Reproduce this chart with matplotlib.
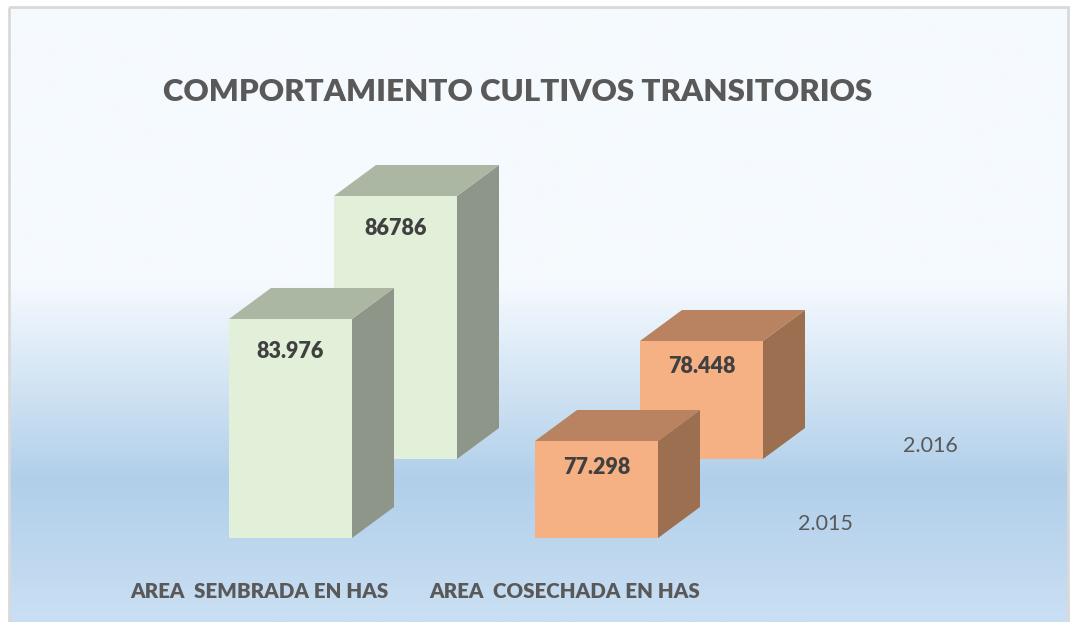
import matplotlib
matplotlib.use("Agg")
import matplotlib.pyplot as plt
from matplotlib.colors import LinearSegmentedColormap
from matplotlib.patches import Polygon, Rectangle
import numpy as np

title = "COMPORTAMIENTO CULTIVOS TRANSITORIOS"
categories = ["AREA  SEMBRADA EN HAS", "AREA  COSECHADA EN HAS"]
series_names = ["2.015", "2.016"]
values_2015 = [83976, 77298]
values_2016 = [86786, 78448]
labels_2015 = ["83.976", "77.298"]
labels_2016 = ["86786", "78.448"]

plt.rcParams['font.family'] = ['Lato', 'DejaVu Sans']

W, H = 1074, 622
fig = plt.figure(figsize=(W / 100, H / 100), dpi=100)
ax = fig.add_axes([0, 0, 1, 1])
ax.set_xlim(0, W)
ax.set_ylim(H, 0)
ax.axis("off")

# chart area background
stops = [0.0, 0.45, 0.77, 1.0]
cols = ["#f5fafe", "#f5fafe", "#b1cfea", "#cadff3"]
cmap = LinearSegmentedColormap.from_list("bg", list(zip(stops, cols)))
grad = np.linspace(0, 1, 256).reshape(-1, 1)
ax.imshow(grad, cmap=cmap, extent=[9, 1068, H, 7], aspect="auto", zorder=0)
ax.set_xlim(0, W)
ax.set_ylim(H, 0)
ax.add_patch(Rectangle((8.5, 7), 1059.5, H, fill=False, ec="#d9d9d9", lw=2, zorder=1))

# the 3d look: each row has its own floor and scale
bar_w = 123
cap_dx, cap_dy = 42, 31
rows = [
    {"vals": values_2016, "labels": labels_2016, "x0": 105, "floor": 459, "base": 71662, "k": 0.01739},
    {"vals": values_2015, "labels": labels_2015, "x0": 0, "floor": 538, "base": 71989, "k": 0.01827},
]
group_x = [229, 535]
label_drop = [33, 26]
faces = [("#e3f0d9", "#8d9688", "#abb7a3"), ("#f5b084", "#9b6f50", "#b98260")]

z = 2
for row in rows:
    for i, v in enumerate(row["vals"]):
        x = group_x[i] + row["x0"]
        floor = row["floor"]
        top = floor - (v - row["base"]) * row["k"]
        front, side, cap = faces[i]
        ax.add_patch(Polygon([(x + bar_w, top), (x + bar_w + cap_dx, top - cap_dy),
                              (x + bar_w + cap_dx, floor - cap_dy), (x + bar_w, floor)],
                             fc=side, ec="none", zorder=z))
        ax.add_patch(Polygon([(x, top), (x + cap_dx, top - cap_dy),
                              (x + bar_w + cap_dx, top - cap_dy), (x + bar_w, top)],
                             fc=cap, ec="none", zorder=z))
        ax.add_patch(Rectangle((x, top), bar_w, floor - top, fc=front, ec="none", zorder=z))
        ax.text(x + bar_w / 2, top + label_drop[i], row["labels"][i], ha="center", va="center",
                fontsize=15.5, fontweight="heavy", color="#404040", zorder=z + 1)
    z += 2

ax.text(518, 92, title, ha="center", va="center", fontsize=22.5, fontweight="heavy", color="#595959")
ax.text(259, 592, categories[0], ha="center", va="center", fontsize=14.8, fontweight="heavy", color="#595959")
ax.text(565, 592, categories[1], ha="center", va="center", fontsize=14.8, fontweight="heavy", color="#595959")
ax.text(825, 524, series_names[0], ha="center", va="center", fontsize=15.5, color="#595959")
ax.text(930, 446, series_names[1], ha="center", va="center", fontsize=15.5, color="#595959")

fig.savefig("out.png", dpi=100, facecolor="white")
